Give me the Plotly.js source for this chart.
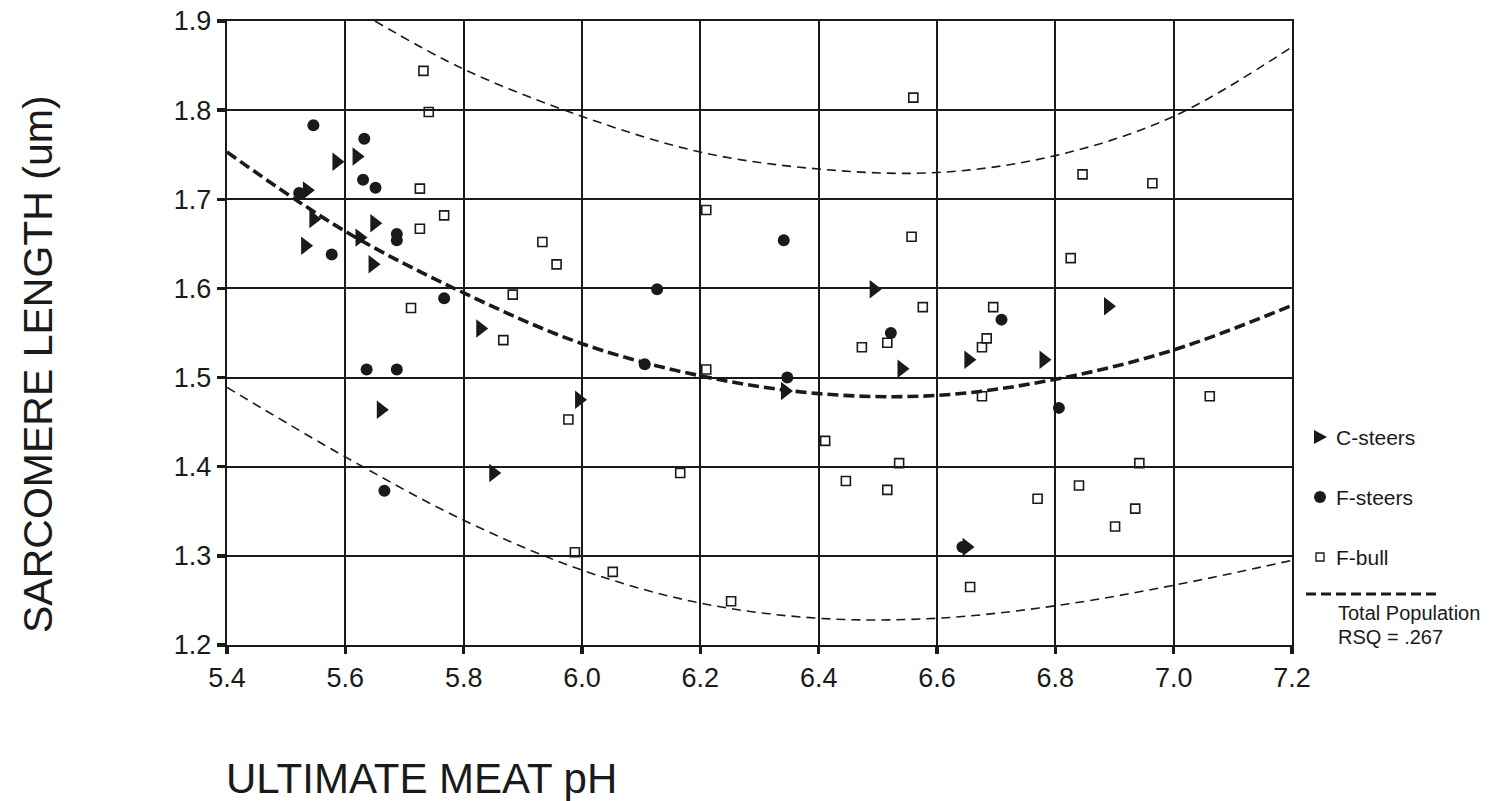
<!DOCTYPE html>
<html>
<head>
<meta charset="utf-8">
<script src="https://cdn.plot.ly/plotly-3.0.1.min.js"></script>
<style>
html, body { margin: 0; padding: 0; background: #ffffff; }
#chart { width: 1493px; height: 801px; }
</style>
</head>
<body>
<div id="chart"></div>
<script>
// C-steers (filled right triangles)
const cSteersPH = [5.585, 5.619, 5.535, 5.546, 5.532, 5.649, 5.624, 5.646, 5.828, 5.660, 5.995, 5.850, 6.493, 6.343, 6.540, 6.653, 6.650, 6.889, 6.780];
const cSteersSL = [1.742, 1.748, 1.710, 1.678, 1.648, 1.673, 1.657, 1.627, 1.555, 1.464, 1.475, 1.393, 1.599, 1.485, 1.510, 1.520, 1.310, 1.580, 1.520];

// F-steers (filled circles)
const fSteersPH = [5.546, 5.632, 5.630, 5.651, 5.522, 5.577, 5.687, 5.687, 5.767, 5.636, 5.687, 5.666, 6.341, 6.127, 6.106, 6.347, 6.522, 6.709, 6.806, 6.643];
const fSteersSL = [1.783, 1.768, 1.722, 1.713, 1.707, 1.638, 1.661, 1.654, 1.589, 1.509, 1.509, 1.373, 1.654, 1.599, 1.515, 1.500, 1.550, 1.565, 1.466, 1.310];

// F-bull (open squares)
const fBullPH = [5.732, 5.741, 5.726, 5.767, 5.726, 5.933, 5.957, 5.883, 5.711, 5.867, 5.977, 5.988, 6.052, 6.560, 6.210, 6.557, 6.576, 6.695, 6.473, 6.516, 6.684, 6.676, 6.210, 6.676, 6.411, 6.166, 6.446, 6.536, 6.516, 6.656, 6.252, 6.846, 6.964, 6.826, 7.061, 6.942, 6.840, 6.770, 6.935, 6.901];
const fBullSL = [1.844, 1.798, 1.712, 1.682, 1.667, 1.652, 1.627, 1.593, 1.578, 1.542, 1.453, 1.304, 1.282, 1.814, 1.688, 1.658, 1.579, 1.579, 1.534, 1.539, 1.544, 1.534, 1.509, 1.479, 1.429, 1.393, 1.384, 1.404, 1.374, 1.265, 1.249, 1.728, 1.718, 1.634, 1.479, 1.404, 1.379, 1.364, 1.353, 1.333];

// Total population fit and its bands
const curvePH = [5.4, 5.6, 5.8, 6.0, 6.2, 6.4, 6.6, 6.8, 7.0, 7.2];
const fitSL   = [1.753, 1.664, 1.595, 1.538, 1.502, 1.482, 1.480, 1.498, 1.531, 1.581];
const lowerSL = [1.489, 1.411, 1.340, 1.284, 1.247, 1.230, 1.230, 1.244, 1.267, 1.295];
const upperPH = [5.65, 5.8, 6.0, 6.2, 6.4, 6.6, 6.8, 7.0, 7.2];
const upperSL = [1.900, 1.846, 1.793, 1.753, 1.734, 1.730, 1.749, 1.793, 1.871];

// Axis ticks
const xTicks = [5.4, 5.6, 5.8, 6.0, 6.2, 6.4, 6.6, 6.8, 7.0, 7.2];
const xTickText = ["5.4", "5.6", "5.8", "6.0", "6.2", "6.4", "6.6", "6.8", "7.0", "7.2"];
const yTicks = [1.2, 1.3, 1.4, 1.5, 1.6, 1.7, 1.8, 1.9];
const yTickText = ["1.2", "1.3", "1.4", "1.5", "1.6", "1.7", "1.8", "1.9"];

// Legend labels
const legendLabels = ["C-steers", "F-steers", "F-bull"];
const fitLabel = ["Total Population", "RSQ = .267"];

const ink = "#1a1a1a";
const FONT = "Liberation Sans, Arial, Helvetica, sans-serif";

const traces = [
  { x: upperPH, y: upperSL, mode: "lines", line: { color: ink, width: 1.6, dash: "9px,6px", shape: "spline" }, hoverinfo: "skip" },
  { x: curvePH, y: lowerSL, mode: "lines", line: { color: ink, width: 1.6, dash: "9px,6px", shape: "spline" }, hoverinfo: "skip" },
  { x: curvePH, y: fitSL, mode: "lines", line: { color: ink, width: 3.6, dash: "11px,5px", shape: "spline" }, hoverinfo: "skip" },
  { x: fBullPH, y: fBullSL, mode: "markers", name: legendLabels[2],
    marker: { symbol: "square-open", size: 9, color: ink, line: { color: ink, width: 1.6 } } },
  { x: fSteersPH, y: fSteersSL, mode: "markers", name: legendLabels[1],
    marker: { symbol: "circle", size: 12, color: ink } },
  { x: cSteersPH, y: cSteersSL, mode: "markers", name: legendLabels[0],
    marker: { symbol: "triangle-right", size: 16, color: ink } }
];

const L = 227, R = 1292, T = 21, B = 645;
const px = v => (v - L) / (R - L);
const py = v => (B - v) / (B - T);

const annotations = [
  { text: "SARCOMERE LENGTH (um)", xref: "paper", yref: "paper", x: px(38), y: py(364), textangle: -90,
    xanchor: "center", yanchor: "middle", showarrow: false, font: { family: FONT, size: 41, color: ink } },
  { text: "ULTIMATE MEAT pH", xref: "paper", yref: "paper", x: px(224), y: py(778),
    xanchor: "left", yanchor: "middle", showarrow: false, font: { family: FONT, size: 42, color: ink } },
  { text: legendLabels[0], xref: "paper", yref: "paper", x: px(1334), y: py(437), xanchor: "left", yanchor: "middle",
    showarrow: false, font: { family: FONT, size: 21, color: ink } },
  { text: legendLabels[1], xref: "paper", yref: "paper", x: px(1334), y: py(497), xanchor: "left", yanchor: "middle",
    showarrow: false, font: { family: FONT, size: 21, color: ink } },
  { text: legendLabels[2], xref: "paper", yref: "paper", x: px(1334), y: py(557), xanchor: "left", yanchor: "middle",
    showarrow: false, font: { family: FONT, size: 21, color: ink } },
  { text: fitLabel[0], xref: "paper", yref: "paper", x: px(1336), y: py(613), xanchor: "left", yanchor: "middle",
    showarrow: false, font: { family: FONT, size: 20, color: ink } },
  { text: fitLabel[1], xref: "paper", yref: "paper", x: px(1336), y: py(637), xanchor: "left", yanchor: "middle",
    showarrow: false, font: { family: FONT, size: 20, color: ink } }
];

const shapes = [
  { type: "path", xref: "paper", yref: "paper", xsizemode: "pixel", ysizemode: "pixel",
    xanchor: px(1320), yanchor: py(437), path: "M -6 -7 L 7 0 L -6 7 Z",
    fillcolor: ink, line: { width: 0 } },
  { type: "circle", xref: "paper", yref: "paper", xsizemode: "pixel", ysizemode: "pixel",
    xanchor: px(1320), yanchor: py(497), x0: -6, x1: 6, y0: -6, y1: 6,
    fillcolor: ink, line: { width: 0 } },
  { type: "rect", xref: "paper", yref: "paper", xsizemode: "pixel", ysizemode: "pixel",
    xanchor: px(1320), yanchor: py(557), x0: -4, x1: 4, y0: -4, y1: 4,
    fillcolor: "rgba(0,0,0,0)", line: { color: ink, width: 1.4 } },
  { type: "line", xref: "paper", yref: "paper", x0: px(1306), x1: px(1438), y0: py(594), y1: py(594),
    line: { color: ink, width: 3.2, dash: "10px,5px" } }
];

const axisCommon = {
  showgrid: true, gridcolor: ink, gridwidth: 2,
  showline: true, linecolor: ink, linewidth: 2.4, mirror: true,
  zeroline: false,
  ticks: "outside", tickcolor: ink, tickwidth: 3.5,
  tickfont: { family: FONT, size: 27, color: ink },
  tickmode: "array"
};

const layout = {
  width: 1493, height: 801,
  margin: { l: L, r: 1493 - R, t: T, b: 801 - B },
  paper_bgcolor: "#ffffff", plot_bgcolor: "#ffffff",
  showlegend: false,
  xaxis: Object.assign({}, axisCommon, { range: [5.4, 7.2], tickvals: xTicks, ticktext: xTickText, ticklen: 7 }),
  yaxis: Object.assign({}, axisCommon, { range: [1.2, 1.9], tickvals: yTicks, ticktext: yTickText, ticklen: 8 }),
  annotations: annotations,
  shapes: shapes
};

Plotly.newPlot("chart", traces, layout, { staticPlot: true, displayModeBar: false });
</script>
</body>
</html>
